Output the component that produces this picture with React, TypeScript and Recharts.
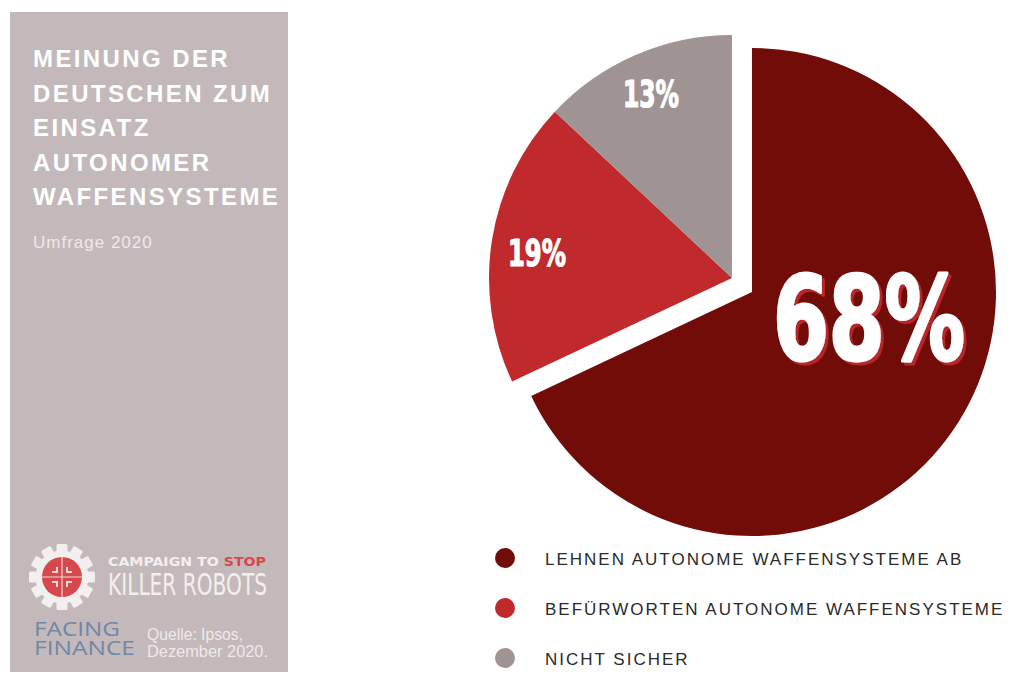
import React from "react";
import { PieChart, Pie, Cell, Legend } from "recharts";

const categories = [
  "LEHNEN AUTONOME WAFFENSYSTEME AB",
  "BEFÜRWORTEN AUTONOME WAFFENSYSTEME",
  "NICHT SICHER",
];
const shares = [68, 19, 13];
const shareLabels = ["68%", "19%", "13%"];
const colors = ["#720c08", "#c02a2c", "#a09394"];

const titleLines = [
  "MEINUNG DER",
  "DEUTSCHEN ZUM",
  "EINSATZ",
  "AUTONOMER",
  "WAFFENSYSTEME",
];
const subtitle = "Umfrage 2020";
const sourceLines = ["Quelle: Ipsos,", "Dezember 2020."];

const data = categories.map((name, i) => ({
  name,
  value: shares[i],
  label: shareLabels[i],
}));

// the big slice stays in place, the two small ones are pulled out to the upper left
const mainCenter = { x: 747, y: 287 };
const pulledCenter = { x: 727, y: 273 };

// where each percent label sits relative to its pie centre (text baseline)
const labelPos = [
  { dx: 122, dy: 72, size: 116, len: 192, stroke: 3 },
  { dx: -190, dy: -7, size: 38, len: 58, stroke: 1.2 },
  { dx: -76, dy: -166, size: 38, len: 56, stroke: 1.2 },
];

const makeLabel = (show: number[], center: { x: number; y: number }) =>
  (props: any) => {
    const i = props.index;
    if (!show.includes(i)) return null;
    const p = labelPos[i];
    return (
      <g key={"lbl" + i}>
        <defs>
          <filter id={"shadow" + i} x="-10%" y="-10%" width="130%" height="130%">
            <feOffset in="SourceAlpha" dx={3} dy={3} result="off" />
            <feFlood floodColor="#b8272a" />
            <feComposite in2="off" operator="in" result="sh" />
            <feMerge>
              <feMergeNode in="sh" />
              <feMergeNode in="SourceGraphic" />
            </feMerge>
          </filter>
        </defs>
        <text
          x={center.x + p.dx}
          y={center.y + p.dy}
          textAnchor="middle"
          fontFamily="'DejaVu Sans Condensed', 'DejaVu Sans', sans-serif"
          fontWeight={700}
          fontSize={p.size}
          textLength={p.len}
          lengthAdjust="spacingAndGlyphs"
          strokeWidth={p.stroke}
          strokeLinejoin="round"
          fill="#ffffff"
          stroke="#ffffff"
          filter={i === 0 ? `url(#shadow${i})` : undefined}
        >
          {data[i].label}
        </text>
      </g>
    );
  };

const LegendBox = () => (
  <svg width={539} height={140}>
    {data.map((d, i) => (
      <g key={d.name}>
        <circle cx={15} cy={18 + i * 50} r={10} fill={colors[i]} />
        <text
          x={55}
          y={25 + i * 50}
          fontFamily="'Liberation Sans', Arial, sans-serif"
          fontSize={17}
          letterSpacing={2}
          fill="#2a2a2a"
        >
          {d.name}
        </text>
      </g>
    ))}
  </svg>
);

const Gear = ({ cx, cy }: { cx: number; cy: number }) => {
  const teeth = Array.from({ length: 12 }, (_, i) => i * 30);
  return (
    <g>
      {teeth.map((a) => (
        <rect
          key={a}
          x={cx - 5.5}
          y={cy - 33}
          width={11}
          height={12}
          rx={1.5}
          fill="#f3efef"
          transform={`rotate(${a} ${cx} ${cy})`}
        />
      ))}
      <circle cx={cx} cy={cy} r={26.5} fill="#f3efef" />
      <circle cx={cx} cy={cy} r={20} fill="#d6484b" />
      <line x1={cx - 20} y1={cy} x2={cx + 20} y2={cy} stroke="#f3d6d6" strokeWidth={1.2} />
      <line x1={cx} y1={cy - 20} x2={cx} y2={cy + 20} stroke="#f3d6d6" strokeWidth={1.2} />
      {[
        [-1, -1],
        [1, -1],
        [-1, 1],
        [1, 1],
      ].map(([sx, sy]) => (
        <path
          key={`${sx}${sy}`}
          d={`M ${cx + sx * 5} ${cy + sy * 10} L ${cx + sx * 5} ${cy + sy * 5} L ${cx + sx * 10} ${cy + sy * 5}`}
          stroke="#f3d6d6"
          strokeWidth={2}
          fill="none"
        />
      ))}
    </g>
  );
};

const SidePanel = () => (
  <svg
    width={300}
    height={682}
    style={{ position: "absolute", left: 0, top: 0 }}
  >
    <rect x={10} y={12} width={278} height={660} fill="#c3b9ba" />
    {titleLines.map((t, i) => (
      <text
        key={t}
        x={33}
        y={67 + i * 34.5}
        fontFamily="'Liberation Sans', Arial, sans-serif"
        fontWeight={700}
        fontSize={24}
        letterSpacing={2.4}
        fill="#ffffff"
      >
        {t}
      </text>
    ))}
    <text
      x={33}
      y={248}
      fontFamily="'Liberation Sans', Arial, sans-serif"
      fontSize={17}
      letterSpacing={1}
      fill="#eee9e9"
    >
      {subtitle}
    </text>

    <Gear cx={62} cy={577} />
    <text
      x={108}
      y={566}
      fontFamily="'DejaVu Sans Condensed', sans-serif"
      fontWeight={700}
      fontSize={13}
      textLength={158}
      lengthAdjust="spacingAndGlyphs"
      fill="#f3efef"
    >
      CAMPAIGN TO <tspan fill="#d6484b">STOP</tspan>
    </text>
    <text
      x={108}
      y={595}
      fontFamily="'DejaVu Sans Condensed', sans-serif"
      fontSize={31}
      textLength={159}
      lengthAdjust="spacingAndGlyphs"
      fill="#f3efef"
    >
      KILLER ROBOTS
    </text>

    <text
      x={34}
      y={636}
      fontFamily="'Open Sans', sans-serif"
      fontSize={20}
      textLength={86}
      lengthAdjust="spacingAndGlyphs"
      fill="#6f87a8"
    >
      FACING
    </text>
    <text
      x={34}
      y={655}
      fontFamily="'Open Sans', sans-serif"
      fontSize={20}
      textLength={101}
      lengthAdjust="spacingAndGlyphs"
      fill="#6f87a8"
    >
      FINANCE
    </text>
    {sourceLines.map((t, i) => (
      <text
        key={t}
        x={147}
        y={640 + i * 16.5}
        fontFamily="'Liberation Sans', Arial, sans-serif"
        fontSize={16}
        textLength={i === 0 ? 96 : 121}
        lengthAdjust="spacingAndGlyphs"
        fill="#eee9e9"
      >
        {t}
      </text>
    ))}
  </svg>
);

export default function App() {
  return (
    <div
      style={{
        position: "absolute",
        left: 0,
        top: 0,
        width: 1029,
        height: 682,
        background: "#ffffff",
        overflow: "hidden",
      }}
    >
      <PieChart width={1029} height={682}>
        <Pie
          data={data}
          dataKey="value"
          nameKey="name"
          cx={mainCenter.x}
          cy={mainCenter.y}
          outerRadius={244}
          startAngle={90}
          endAngle={-270}
          stroke="none"
          labelLine={false}
          label={makeLabel([0], mainCenter)}
          isAnimationActive={false}
        >
          {data.map((d, i) => (
            <Cell key={d.name} fill={i === 0 ? colors[i] : "none"} stroke="none" />
          ))}
        </Pie>
        <Pie
          data={data}
          dataKey="value"
          nameKey="name"
          cx={pulledCenter.x}
          cy={pulledCenter.y}
          outerRadius={243}
          startAngle={90}
          endAngle={-270}
          stroke="none"
          labelLine={false}
          label={makeLabel([1, 2], pulledCenter)}
          isAnimationActive={false}
        >
          {data.map((d, i) => (
            <Cell key={d.name} fill={i === 0 ? "none" : colors[i]} stroke="none" />
          ))}
        </Pie>
        <Legend
          content={() => <LegendBox />}
          wrapperStyle={{ position: "absolute", left: 490, top: 540, width: 539 }}
        />
      </PieChart>
      <SidePanel />
    </div>
  );
}
